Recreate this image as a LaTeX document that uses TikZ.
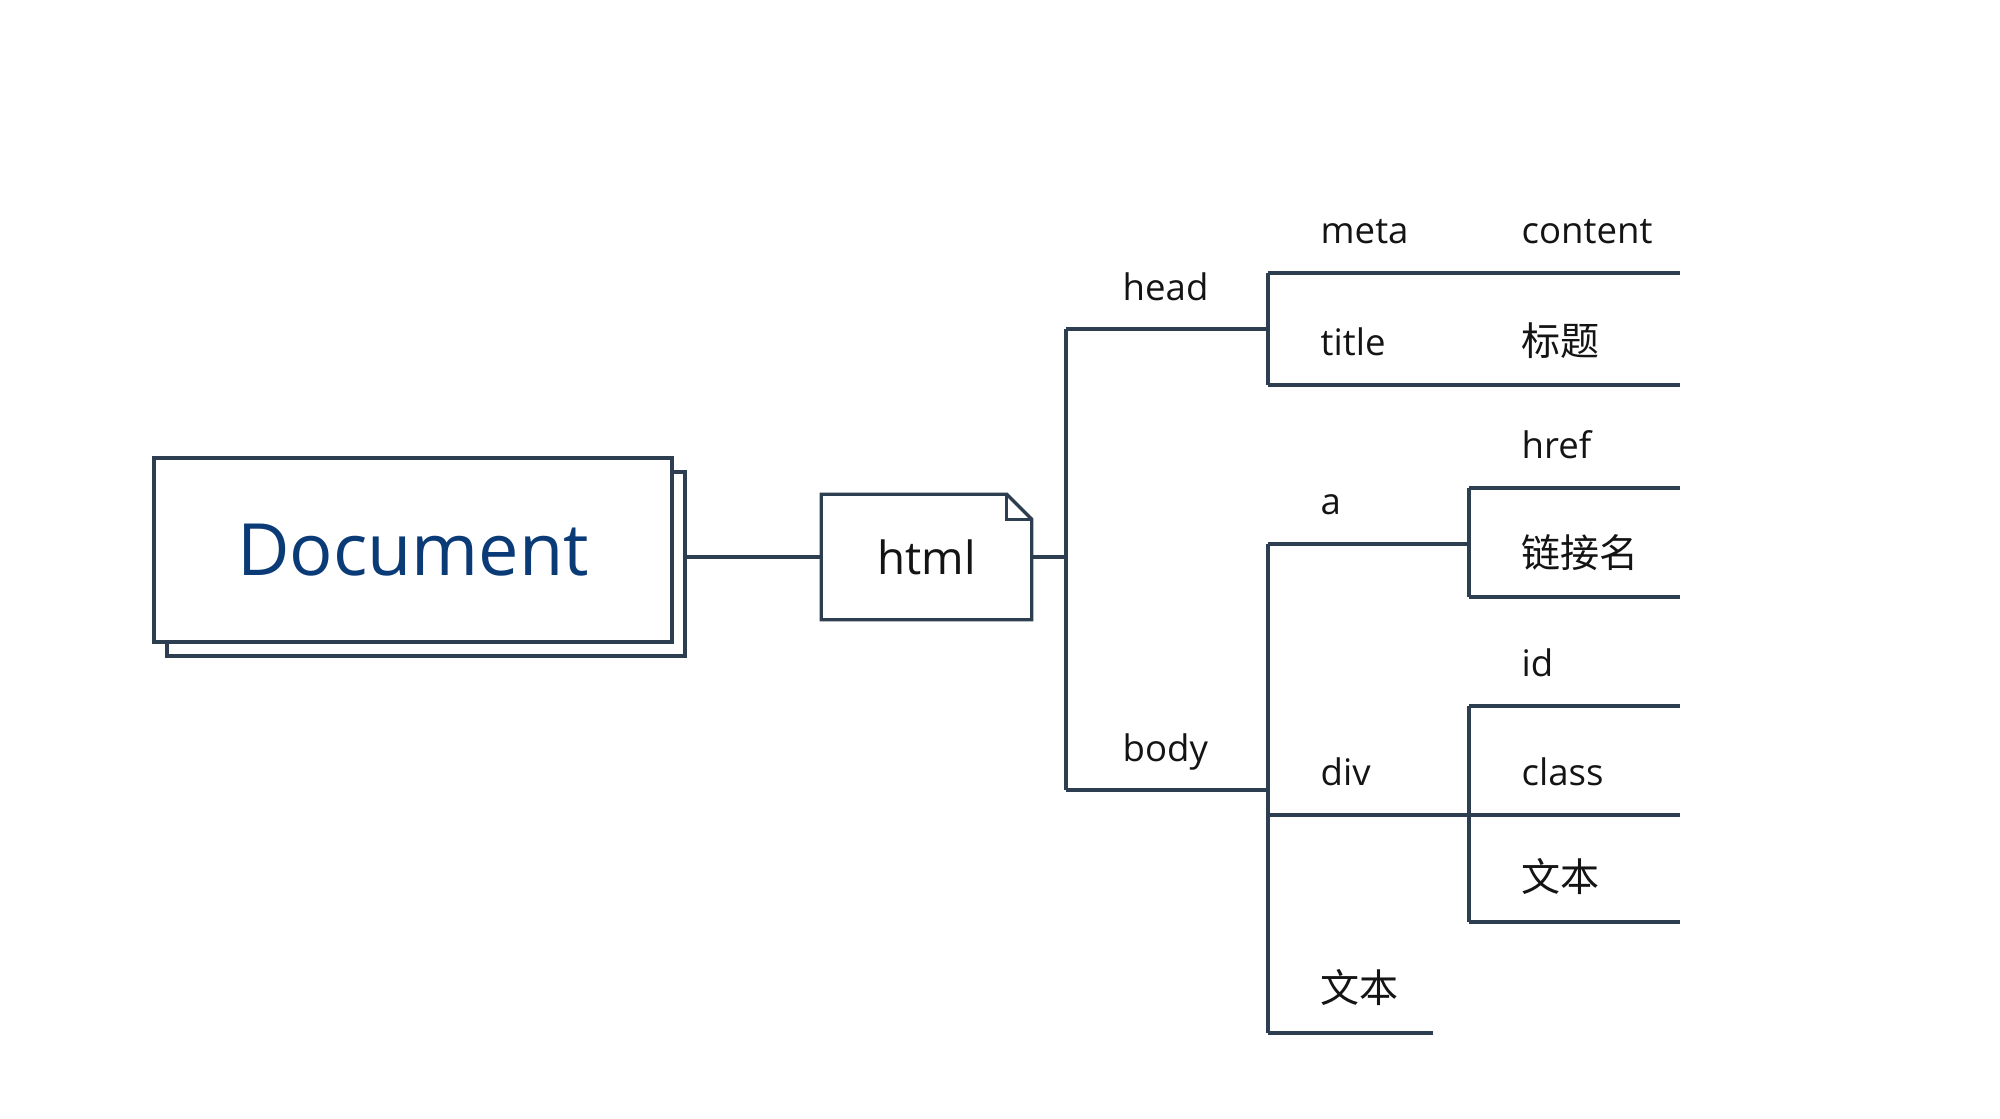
\documentclass[tikz,border=0pt]{standalone}
\usepackage{fontspec}
\setmainfont{Open Sans}
\newfontfamily\cjk{Noto Sans CJK SC}
\definecolor{linec}{HTML}{2C3E50}
\definecolor{docc}{HTML}{0B3B77}
\definecolor{labc}{HTML}{141414}
\tikzset{
  link/.style={draw=linec, line width=0.95pt},
  lbl/.style={anchor=base west, inner sep=0pt, text=labc, font=\fontsize{10.4}{12}\selectfont},
  cjklbl/.style={anchor=base west, inner sep=0pt, text=labc, font=\fontsize{11.1}{13}\selectfont\cjk},
  docbox/.style={draw=linec, line width=0.95pt, fill=white, minimum width=5.18cm, minimum height=1.84cm, inner sep=0pt},
}
\begin{document}
\begin{tikzpicture}[x=0.01cm, y=-0.01cm]
\useasboundingbox (0,0) rectangle (2000,1118);
% Document
\node[docbox] (docback) at (426,564) {};
\node[docbox, text=docc, font=\fontsize{20.5}{24}\selectfont] (doc) at (413,550) {Document};
% html
\node[minimum width=2.09cm, minimum height=1.24cm, inner sep=0pt] (html) at (926.5,557) {};
\draw[link, fill=white] (html.north west) -- ([xshift=-0.25cm]html.north east) -- ([yshift=-0.25cm]html.north east) -- (html.south east) -- (html.south west) -- cycle;
\draw[link] ([xshift=-0.25cm]html.north east) |- ([yshift=-0.25cm]html.north east);
\node[font=\fontsize{13}{15}\selectfont, text=labc] (htmltext) at (html) {html};
% junction coordinates
\coordinate (J0) at (1066,557);
\coordinate (headS) at (1066,329);  \coordinate (headE) at (1268,329);
\coordinate (bodyS) at (1066,790);  \coordinate (bodyE) at (1268,790);
\coordinate (metaS) at (1268,273);  \coordinate (metaE) at (1469,273);
\coordinate (contS) at (1469,273);  \coordinate (contE) at (1680,273);
\coordinate (titS) at (1268,385);   \coordinate (titE) at (1469,385);
\coordinate (btS) at (1469,385);    \coordinate (btE) at (1680,385);
\coordinate (aS) at (1268,544);     \coordinate (aE) at (1469,544);
\coordinate (hrefS) at (1469,488);  \coordinate (hrefE) at (1680,488);
\coordinate (lnkS) at (1469,597);   \coordinate (lnkE) at (1680,597);
\coordinate (divS) at (1268,815);   \coordinate (divE) at (1469,815);
\coordinate (idS) at (1469,706);    \coordinate (idE) at (1680,706);
\coordinate (clsS) at (1469,815);   \coordinate (clsE) at (1680,815);
\coordinate (txtbS) at (1469,922);  \coordinate (txtbE) at (1680,922);
\coordinate (txtaS) at (1268,1033); \coordinate (txtaE) at (1433,1033);
% connectors
\draw[link] (docback.east |- html.west) -- (html.west);
\draw[link] (html.east) -- (J0);
\draw[link] (headS) -- (bodyS);
\draw[link] (headS) -- (headE);
\draw[link] (bodyS) -- (bodyE);
\draw[link] (metaS) -- (titS);
\draw[link] (metaS) -- (metaE) -- (contE);
\draw[link] (titS) -- (titE) -- (btE);
\draw[link] (aS) -- (txtaS);
\draw[link] (aS) -- (aE);
\draw[link] (hrefS) -- (lnkS);
\draw[link] (hrefS) -- (hrefE);
\draw[link] (lnkS) -- (lnkE);
\draw[link] (divS) -- (divE) -- (clsE);
\draw[link] (idS) -- (txtbS);
\draw[link] (idS) -- (idE);
\draw[link] (txtbS) -- (txtbE);
\draw[link] (txtaS) -- (txtaE);
% labels
\node[lbl] (lhead) at (1122,300) {head};
\node[lbl] (lbody) at (1122,761) {body};
\node[lbl] (lmeta) at (1320,243) {meta};
\node[lbl] (ltitle) at (1320,355) {title};
\node[lbl] (la) at (1320,514) {a};
\node[lbl] (ldiv) at (1320,785) {div};
\node[cjklbl] (ltxta) at (1320,1002) {文本};
\node[lbl] (lcont) at (1521,243) {content};
\node[cjklbl] (lbt) at (1521,355) {标题};
\node[lbl] (lhref) at (1521,458) {href};
\node[cjklbl] (llnk) at (1521,567) {链接名};
\node[lbl] (lid) at (1521,676) {id};
\node[lbl] (lcls) at (1521,785) {class};
\node[cjklbl] (ltxtb) at (1521,891) {文本};
\end{tikzpicture}
\end{document}
